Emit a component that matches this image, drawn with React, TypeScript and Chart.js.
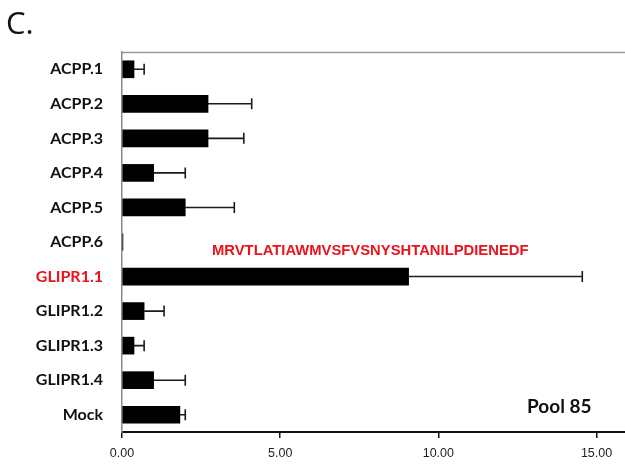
import React, { useEffect, useRef } from "react";
import { Chart, registerables } from "chart.js";

Chart.register(...registerables);

const categories = [
  "ACPP.1", "ACPP.2", "ACPP.3", "ACPP.4", "ACPP.5", "ACPP.6",
  "GLIPR1.1", "GLIPR1.2", "GLIPR1.3", "GLIPR1.4", "Mock",
];
const values = [0.38, 2.72, 2.72, 1.0, 2.0, 0.03, 9.06, 0.7, 0.38, 1.0, 1.83];
const errors = [0.32, 1.38, 1.13, 1.0, 1.55, 0, 5.49, 0.63, 0.32, 1.0, 0.17];
const xTicks = [0, 5, 10, 15];
const highlighted = "GLIPR1.1";
const sequence = "MRVTLATIAWMVSFVSNYSHTANILPDIENEDF";
const panelLabel = "C.";
const poolLabel = "Pool 85";

const RED = "#e8141c";

const decorPlugin = {
  id: "decor",
  beforeDraw(chart: any) {
    const { ctx, chartArea } = chart;
    ctx.save();
    ctx.fillStyle = "#ffffff";
    ctx.fillRect(0, 0, chart.width, chart.height);
    ctx.strokeStyle = "#9a9a9a";
    ctx.lineWidth = 1.5;
    ctx.beginPath();
    ctx.moveTo(chartArea.left, chartArea.top + 0.5);
    ctx.lineTo(chartArea.right, chartArea.top + 0.5);
    ctx.stroke();
    ctx.restore();
  },
  afterDatasetsDraw(chart: any) {
    const { ctx } = chart;
    const xs = chart.scales.x;
    const ys = chart.scales.y;
    ctx.save();
    ctx.strokeStyle = "#1a1a1a";
    ctx.lineWidth = 1.6;
    values.forEach((v, i) => {
      const e = errors[i];
      if (!e) return;
      const x0 = xs.getPixelForValue(v);
      const x1 = xs.getPixelForValue(v + e);
      const y = ys.getPixelForValue(i);
      ctx.beginPath();
      ctx.moveTo(x0, y);
      ctx.lineTo(x1, y);
      ctx.moveTo(x1, y - 5.5);
      ctx.lineTo(x1, y + 5.5);
      ctx.stroke();
    });
    ctx.fillStyle = "#111111";
    ctx.textBaseline = "middle";
    ctx.textAlign = "left";
    ctx.font = "31px 'Open Sans'";
    ctx.fillText(panelLabel, 6, 25);
    ctx.font = "bold 19px Lato";
    ctx.fillText(poolLabel, 527, 407);
    const hi = categories.indexOf(highlighted);
    const yHi = ys.getPixelForValue(hi);
    ctx.fillStyle = RED;
    ctx.font = "bold 14.8px 'Liberation Sans'";
    ctx.fillText(sequence, 212, yHi - 26);
    ctx.restore();
  },
};

export default function App() {
  const ref = useRef<HTMLCanvasElement>(null);
  useEffect(() => {
    if (!ref.current) return;
    const chart = new Chart(ref.current, {
      type: "bar",
      data: {
        labels: categories,
        datasets: [
          {
            data: values,
            backgroundColor: "#000000",
            borderWidth: 0,
            barThickness: 17,
          },
        ],
      },
      options: {
        indexAxis: "y",
        animation: false,
        responsive: false,
        devicePixelRatio: 1,
        layout: { padding: { top: 52, left: 0, right: 0, bottom: 0 } },
        plugins: {
          legend: { display: false },
          tooltip: { enabled: false },
        },
        scales: {
          x: {
            min: 0,
            max: 15.9,
            afterBuildTicks: (scale: any) => {
              scale.ticks = xTicks.map((v) => ({ value: v }));
            },
            afterFit: (scale: any) => {
              scale.height = 33;
            },
            grid: {
              drawOnChartArea: false,
              drawTicks: true,
              tickLength: 6,
              color: "#111111",
              lineWidth: 1.5,
            },
            border: { display: true, color: "#111111", width: 2 },
            ticks: {
              padding: 8,
              maxRotation: 0,
              color: "#222222",
              font: { family: "'Liberation Sans'", size: 12.5 },
              callback: (v: any) => Number(v).toFixed(2),
            },
          },
          y: {
            afterFit: (scale: any) => {
              scale.width = 122;
            },
            grid: { display: false, drawTicks: false },
            border: { display: true, color: "#8a8a8a", width: 1.5 },
            ticks: {
              padding: 19,
              color: (ctx: any) =>
                categories[ctx.index] === highlighted ? RED : "#111111",
              font: { family: "Lato", size: 16, weight: "bold" },
            },
          },
        },
      },
      plugins: [decorPlugin],
    });
    return () => chart.destroy();
  }, []);
  return (
    <div style={{ position: "fixed", left: 0, top: 0, width: 625, height: 465, background: "#fff" }}>
      <canvas ref={ref} width={625} height={465} style={{ display: "block" }} />
    </div>
  );
}
